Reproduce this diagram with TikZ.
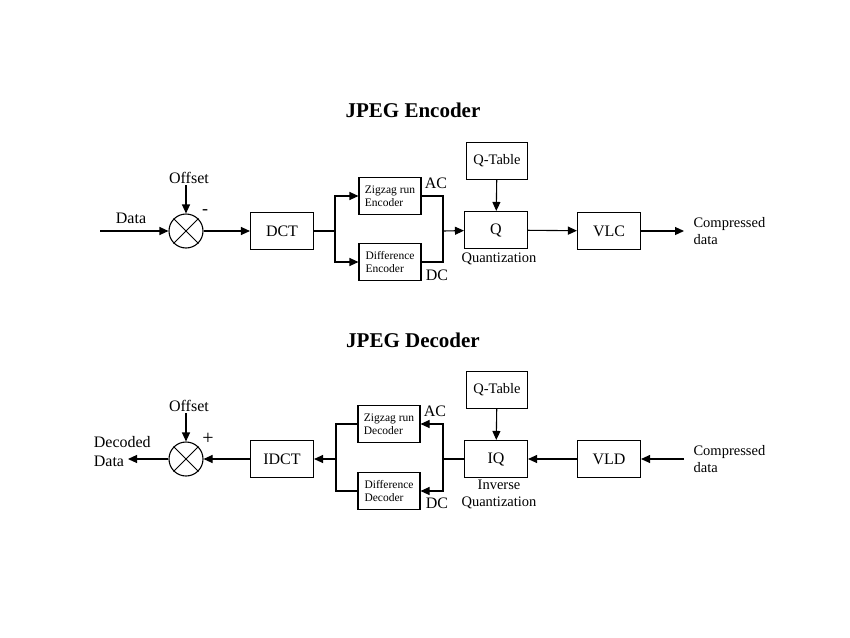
\documentclass[tikz,border=0pt]{standalone}
\usepackage{fontspec}
\setmainfont{Liberation Serif}
\usetikzlibrary{arrows.meta,positioning,calc}

\begin{document}
\begin{tikzpicture}[x=1pt,y=-1pt,>={Triangle[length=9pt,width=8pt]},line width=1.1pt,font=\fontsize{16}{18}\selectfont]
\tikzstyle{b}=[draw,minimum width=63pt,minimum height=37pt,inner sep=1pt]
\tikzstyle{sb}=[b,minimum width=62pt,align=left,font=\fontsize{11.5}{13.5}\selectfont]
\tikzstyle{lbl}=[inner sep=1pt,font=\fontsize{14.5}{17}\selectfont]
\tikzstyle{sum}=[draw,circle,minimum size=34pt,inner sep=0pt]
\tikzstyle{ttl}=[font=\fontsize{21}{24}\selectfont\bfseries]
\useasboundingbox (0,0) rectangle (850,637);
% encoder
\node[ttl] (enc) at (413,110) {JPEG Encoder};
\node[sum] (s1) at (186,231) {};
\draw[line width=1pt] (s1.45) -- (s1.225) (s1.135) -- (s1.315);
\node[inner sep=1pt] (off1) at (189,178) {Offset};
\node (din) at (131,218) {Data}; \coordinate (d1) at (100,231);
\node[font=\fontsize{18}{20}\selectfont] (m1) at (205,212) {-};
\draw[->] (d1) -- (s1); \draw[->] (off1.south -| s1) -- (s1);
\node[b] (dct) at (282,231) {DCT};
\draw[->] (s1) -- (dct);
\node[sb] (zze) at (390,196) {Zigzag run\\Encoder};
\node[sb] (dfe) at (390,262) {Difference\\Encoder};
\node (ac1) at (436,183) {AC}; \node (dc1) at (437,275) {DC};
\coordinate (br1) at (335,231); \coordinate (jn1) at (443,231);
\draw (dct) -- (br1); \draw[->] (br1) |- (zze); \draw[->] (br1) |- (dfe);
\draw (zze.east) -| (jn1); \draw (dfe.east) -| (jn1);
\node[b] (q) at (496,230) {Q};
\node[b,minimum width=61pt,font=\fontsize{14.5}{17}\selectfont] (qt1) at (497,161) {Q-Table};
\draw[->] (jn1) -- (q); \draw[->] (qt1) -- (q);
\node[lbl] (qn) at (499,259) {Quantization};
\node[b] (vlc) at (609,231) {VLC};
\draw[->] (q) -- (vlc);
\coordinate (c1) at (684,231);
\draw[->] (vlc) -- (c1);
\node[lbl,anchor=west,align=left] (cd1) at (692,231) {Compressed\\data};
% decoder
\node[ttl] (dec) at (413,340) {JPEG Decoder};
\node[b,minimum width=61pt,font=\fontsize{14.5}{17}\selectfont] (qt2) at (497,390) {Q-Table};
\node[b] (iq) at (496,459) {IQ};
\draw[->] (qt2) -- (iq);
\node[lbl,align=center] (iqn) at (499,494) {Inverse\\Quantization};
\node[b] (vld) at (609,459) {VLD};
\coordinate (c2) at (684,459);
\node[lbl,anchor=west,align=left] (cd2) at (692,459) {Compressed\\data};
\draw[->] (c2) -- (vld); \draw[->] (vld) -- (iq);
\node[sb] (zzd) at (389,424) {Zigzag run\\Decoder};
\node[sb] (dfd) at (389,491) {Difference\\Decoder};
\node (ac2) at (435,411) {AC}; \node (dc2) at (437,503) {DC};
\coordinate (jn2) at (443,459); \coordinate (br2) at (336,459);
\draw (iq) -- (jn2); \draw[->] (jn2) |- (zzd); \draw[->] (jn2) |- (dfd);
\draw (zzd.west) -| (br2); \draw (dfd.west) -| (br2);
\node[b] (idct) at (282,459) {IDCT};
\draw[->] (br2) -- (idct);
\node[sum] (s2) at (186,459) {};
\draw[line width=1pt] (s2.45) -- (s2.225) (s2.135) -- (s2.315);
\node[inner sep=1pt] (off2) at (189,406) {Offset};
\node[font=\fontsize{20}{22}\selectfont] (p2) at (208,439) {+};
\draw[->] (off2.south -| s2) -- (s2); \draw[->] (idct) -- (s2);
\coordinate (d2) at (128,459);
\draw[->] (s2) -- (d2);
\node[anchor=west,align=left,font=\fontsize{16}{19}\selectfont] (dd) at (90,452) {Decoded\\Data};
\end{tikzpicture}
\end{document}
